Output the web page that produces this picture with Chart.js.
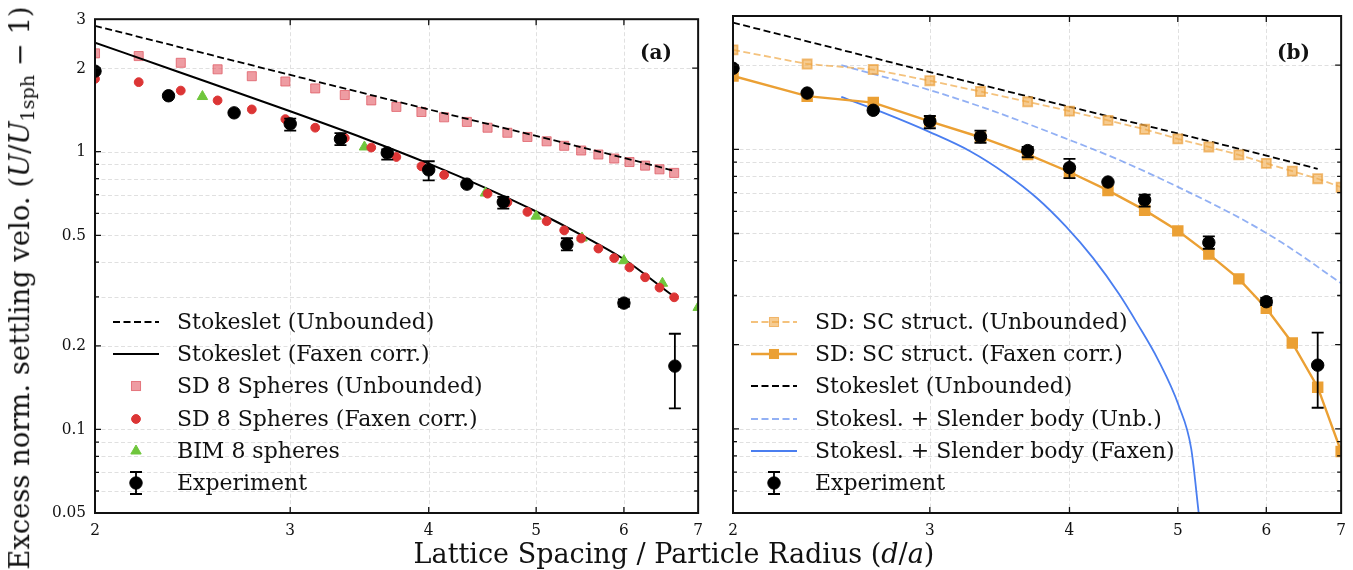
<!DOCTYPE html>
<html>
<head>
<meta charset="utf-8">
<script src="https://cdn.jsdelivr.net/npm/chart.js@4.4.0/dist/chart.umd.min.js"></script>
<style>
  body { margin: 0; background: #fff; }
  #wrap { position: relative; width: 1353px; height: 570px; overflow: hidden;
          font-family: 'DejaVu Serif', serif; color: #111; }
  canvas { position: absolute; top: 0; }
  .ytitle { position: absolute; left: 24px; top: 288px; transform: translate(-50%, -50%) rotate(-90deg);
            white-space: nowrap; font-size: 27.4px; line-height: 34px; }
  .xtitle { position: absolute; left: 674px; top: 538px; transform: translateX(-50%);
            white-space: nowrap; font-size: 27px; line-height: 32px; }
  .tag { position: absolute; font-weight: bold; font-size: 20px; line-height: 24px; }
  .row { position: absolute; height: 32px; }
  .row svg { position: absolute; left: 0; top: 0; }
  .row span { position: absolute; top: 0; white-space: nowrap; font-size: 22px; line-height: 32px; }
  sub { font-size: 0.7em; vertical-align: -0.25em; }
</style>
</head>
<body>
<div id="wrap">
  <canvas id="chartA" width="710" height="570" style="left:0"></canvas>
  <canvas id="chartB" width="643" height="570" style="left:710px"></canvas>
  <div class="ytitle">Excess norm. settling velo. (<i>U</i>/<i>U</i><sub>1sph</sub> − 1)</div>
  <div class="xtitle">Lattice Spacing / Particle Radius (<i>d</i>/<i>a</i>)</div>
  <div class="tag" style="left:640px; top:40px">(a)</div>
  <div class="tag" style="left:1277px; top:40px">(b)</div>
  <div id="legA"></div>
  <div id="legB"></div>
</div>
<script>
// ----- panel (a): 8-sphere cluster -----
var sdX      = [2.00, 2.19, 2.39, 2.58, 2.77, 2.97, 3.16, 3.36, 3.55, 3.74, 3.94, 4.13, 4.33,
                4.52, 4.71, 4.91, 5.11, 5.30, 5.49, 5.69, 5.88, 6.07, 6.27, 6.46, 6.66];
var sdUnbY   = [2.26, 2.21, 2.09, 1.98, 1.87, 1.79, 1.69, 1.60, 1.53, 1.45, 1.39, 1.33, 1.28,
                1.22, 1.17, 1.13, 1.09, 1.05, 1.01, 0.977, 0.945, 0.918, 0.891, 0.864, 0.839];
var sdFaxY   = [1.83, 1.78, 1.66, 1.53, 1.42, 1.31, 1.22, 1.12, 1.035, 0.957, 0.886, 0.825, 0.765,
                0.706, 0.657, 0.607, 0.562, 0.521, 0.487, 0.448, 0.414, 0.383, 0.353, 0.324, 0.299];
var bimX     = [2.5, 3.5, 4.5, 5.0, 5.5, 6.0, 6.5, 7.0];
var bimY     = [1.58, 1.04, 0.71, 0.586, 0.489, 0.405, 0.336, 0.275];
var stokesX    = [2, 3, 4, 5, 6, 6.67];
var stokesUnbY = [2.84, 1.89, 1.42, 1.14, 0.95, 0.852];
var stokesFaxX = [2, 2.38, 3, 3.5, 4, 4.5, 5, 5.5, 6, 6.62];
var stokesFaxY = [2.47, 1.937, 1.398, 1.116, 0.906, 0.741, 0.609, 0.500, 0.410, 0.306];

// ----- experiment (both panels) -----
var expX  = [2, 2.33, 2.67, 3, 3.33, 3.67, 4, 4.33, 4.67, 5.33, 6, 6.67];
var expY  = [1.95, 1.59, 1.38, 1.26, 1.11, 0.99, 0.86, 0.764, 0.659, 0.464, 0.285, 0.169];
var expLo = [1.95, 1.59, 1.38, 1.19, 1.056, 0.937, 0.789, 0.764, 0.624, 0.441, 0.277, 0.119];
var expHi = [1.95, 1.59, 1.38, 1.316, 1.166, 1.02, 0.924, 0.764, 0.688, 0.488, 0.294, 0.221];

// ----- panel (b): simple cubic structure -----
var scX     = [2, 2.33, 2.67, 3, 3.33, 3.67, 4, 4.33, 4.67, 5, 5.33, 5.67, 6, 6.33, 6.67, 7];
var scUnbY  = [2.27, 2.02, 1.93, 1.76, 1.61, 1.48, 1.37, 1.27, 1.18, 1.09, 1.02, 0.956, 0.891, 0.836, 0.785, 0.732];
var scFaxY  = [1.83, 1.55, 1.47, 1.26, 1.105, 0.959, 0.83, 0.713, 0.606, 0.511, 0.422, 0.344, 0.270, 0.203, 0.141, 0.083];
var slenderUnbX = [2.5, 3.0, 3.41, 3.98, 4.41, 5.0, 5.7, 6.2, 7.0];
var slenderUnbY = [2.00, 1.63, 1.376, 1.089, 0.924, 0.734, 0.564, 0.463, 0.332];
var slenderFaxX = [2.5, 2.75, 3.0, 3.26, 3.51, 3.74, 3.97, 4.20, 4.43, 4.60, 4.80, 5.01, 5.14, 5.22];
var slenderFaxY = [1.54, 1.334, 1.153, 0.985, 0.817, 0.670, 0.530, 0.408, 0.3035, 0.238, 0.177, 0.121, 0.085, 0.050];

// ----- axes -----
var xTicks = [2, 3, 4, 5, 6, 7];
var xGrid  = [3, 4, 5, 6];
var yTicks = [0.05, 0.1, 0.2, 0.5, 1, 2, 3];
var yGrid  = [0.06, 0.07, 0.08, 0.09, 0.1, 0.2, 0.3, 0.4, 0.5, 0.6, 0.7, 0.8, 0.9, 1, 2];

var TICKFONT = "'DejaVu Serif Condensed', 'DejaVu Serif', serif";

function pts(xs, ys) {
  return xs.map(function (x, i) { return { x: x, y: ys[i] }; });
}

// dashed grid + inward ticks + box, like the matplotlib style of the original
var axesFrame = {
  id: 'axesFrame',
  beforeDatasetsDraw: function (chart) {
    var ctx = chart.ctx, a = chart.chartArea, sx = chart.scales.x, sy = chart.scales.y;
    ctx.save();
    ctx.strokeStyle = '#e0e0e0';
    ctx.lineWidth = 1;
    ctx.setLineDash([4, 2.5]);
    ctx.beginPath();
    xGrid.forEach(function (v) {
      var p = Math.round(sx.getPixelForValue(v)) + 0.5;
      ctx.moveTo(p, a.top); ctx.lineTo(p, a.bottom);
    });
    yGrid.forEach(function (v) {
      var p = Math.round(sy.getPixelForValue(v)) + 0.5;
      ctx.moveTo(a.left, p); ctx.lineTo(a.right, p);
    });
    ctx.stroke();
    ctx.restore();
  },
  afterDraw: function (chart) {
    var ctx = chart.ctx, a = chart.chartArea, sx = chart.scales.x, sy = chart.scales.y;
    ctx.save();
    ctx.strokeStyle = '#111';
    ctx.lineWidth = 1.3;
    ctx.beginPath();
    xGrid.forEach(function (v) {
      var p = sx.getPixelForValue(v);
      ctx.moveTo(p, a.bottom); ctx.lineTo(p, a.bottom - 6);
      ctx.moveTo(p, a.top); ctx.lineTo(p, a.top + 6);
    });
    yGrid.forEach(function (v) {
      var p = sy.getPixelForValue(v);
      var len = yTicks.indexOf(v) >= 0 ? 6 : 4;
      ctx.moveTo(a.left, p); ctx.lineTo(a.left + len, p);
      ctx.moveTo(a.right, p); ctx.lineTo(a.right - len, p);
    });
    ctx.stroke();
    ctx.lineWidth = 2;
    ctx.strokeRect(a.left, a.top, a.right - a.left, a.bottom - a.top);
    ctx.restore();
  }
};

var errorBars = {
  id: 'errorBars',
  beforeDatasetDraw: function (chart, args) {
    var ds = chart.data.datasets[args.index];
    if (!ds.errLo) return;
    var ctx = chart.ctx, sx = chart.scales.x, sy = chart.scales.y;
    ctx.save();
    ctx.strokeStyle = '#000';
    ctx.lineWidth = 1.8;
    ds.data.forEach(function (p, i) {
      var px = sx.getPixelForValue(p.x);
      var lo = sy.getPixelForValue(ds.errLo[i]), hi = sy.getPixelForValue(ds.errHi[i]);
      if (Math.abs(lo - hi) < 1) return;
      ctx.beginPath();
      ctx.moveTo(px, lo); ctx.lineTo(px, hi);
      ctx.moveTo(px - 6, lo); ctx.lineTo(px + 6, lo);
      ctx.moveTo(px - 6, hi); ctx.lineTo(px + 6, hi);
      ctx.stroke();
    });
    ctx.restore();
  }
};

function lineSet(label, xs, ys, color, width, dash, smooth) {
  return {
    label: label, data: pts(xs, ys), showLine: true, borderColor: color, borderWidth: width,
    borderDash: dash || [], pointRadius: 0, cubicInterpolationMode: smooth ? 'monotone' : 'default',
    clip: 0
  };
}
function markerSet(label, xs, ys, style, radius, fill, stroke) {
  return {
    label: label, data: pts(xs, ys), showLine: false, pointStyle: style, pointRadius: radius,
    pointBackgroundColor: fill, pointBorderColor: stroke, pointBorderWidth: 1, clip: 0
  };
}
function experimentSet() {
  var d = markerSet('Experiment', expX, expY, 'circle', 6.2, '#000', '#000');
  d.errLo = expLo; d.errHi = expHi;
  return d;
}

var stokesUnb = function () { return lineSet('Stokeslet (Unbounded)', stokesX, stokesUnbY, '#000', 1.8, [7, 3.5]); };

var setsA = [
  experimentSet(),
  markerSet('SD 8 Spheres (Faxen corr.)', sdX, sdFaxY, 'circle', 4.4, '#dc3535', '#dc3535'),
  markerSet('BIM 8 spheres', bimX, bimY, 'triangle', 6, '#6fc63c', '#6fc63c'),
  lineSet('Stokeslet (Faxen corr.)', stokesFaxX, stokesFaxY, '#000', 2, null, true),
  stokesUnb(),
  markerSet('SD 8 Spheres (Unbounded)', sdX, sdUnbY, 'rect', 6.4, 'rgba(228,95,105,0.62)', 'rgba(222,88,98,0.75)')
];

var scFax = lineSet('SD: SC struct. (Faxen corr.)', scX, scFaxY, '#eba034', 2.4);
scFax.pointStyle = 'rect'; scFax.pointRadius = 6.4;
scFax.pointBackgroundColor = '#eba034'; scFax.pointBorderColor = '#eba034';
var scUnb = lineSet('SD: SC struct. (Unbounded)', scX, scUnbY, 'rgba(240,168,70,0.7)', 1.8, [7, 3.5]);
scUnb.pointStyle = 'rect'; scUnb.pointRadius = 6.4;
scUnb.pointBackgroundColor = 'rgba(240,168,70,0.6)'; scUnb.pointBorderColor = 'rgba(235,160,60,0.7)';

var setsB = [
  experimentSet(),
  scFax,
  scUnb,
  stokesUnb(),
  lineSet('Stokesl. + Slender body (Faxen)', slenderFaxX, slenderFaxY, '#4a7ef0', 1.8, null, true),
  lineSet('Stokesl. + Slender body (Unb.)', slenderUnbX, slenderUnbY, 'rgba(110,150,240,0.75)', 1.8, [7, 3.5], true)
];

Chart.defaults.font.family = TICKFONT;
Chart.defaults.color = '#111';

function makePanel(id, datasets, yWidth, padRight, yLabels) {
  return new Chart(document.getElementById(id), {
    type: 'scatter',
    data: { datasets: datasets },
    options: {
      responsive: false,
      animation: false,
      layout: { padding: { top: 16, right: padRight, left: 0, bottom: 0 } },
      plugins: { legend: { display: false }, tooltip: { enabled: false } },
      scales: {
        x: {
          type: 'logarithmic', min: 2, max: 7,
          grid: { display: false, drawTicks: false }, border: { display: false },
          afterBuildTicks: function (s) { s.ticks = xTicks.map(function (v) { return { value: v }; }); },
          afterFit: function (s) { s.height = 57; },
          ticks: { autoSkip: false, maxRotation: 0, padding: 7, font: { size: 17 },
                   callback: function (v) { return String(v); } }
        },
        y: {
          type: 'logarithmic', min: 0.05, max: 3,
          grid: { display: false, drawTicks: false }, border: { display: false },
          afterBuildTicks: function (s) { s.ticks = yTicks.map(function (v) { return { value: v }; }); },
          afterFit: function (s) { s.width = yWidth; },
          ticks: { display: yLabels, autoSkip: false, padding: 9, font: { size: 17 },
                   callback: function (v) { return String(v); } }
        }
      }
    },
    plugins: [axesFrame, errorBars]
  });
}

var chartA = makePanel('chartA', setsA, 95, 5, true);
var chartB = makePanel('chartB', setsB, 23, 11, false);

// ----- legends (drawn from the dataset styles) -----
function glyph(ds) {
  var s = '<svg width="50" height="32" viewBox="0 0 50 32">';
  if (ds.showLine) {
    s += '<line x1="1" y1="16" x2="47" y2="16" stroke="' + ds.borderColor + '" stroke-width="' + ds.borderWidth + '"' +
         (ds.borderDash.length ? ' stroke-dasharray="' + ds.borderDash.join(' ') + '"' : '') + '/>';
  }
  if (ds.errLo) {
    s += '<path d="M24 5V27M18 5H30M18 27H30" stroke="#000" stroke-width="1.8" fill="none"/>';
  }
  var r = ds.pointRadius, f = ds.pointBackgroundColor, c = ds.pointBorderColor;
  if (r > 0) {
    if (ds.pointStyle === 'rect') {
      var h = r * Math.SQRT1_2;
      s += '<rect x="' + (24 - h) + '" y="' + (16 - h) + '" width="' + 2 * h + '" height="' + 2 * h + '" fill="' + f + '" stroke="' + c + '"/>';
    } else if (ds.pointStyle === 'triangle') {
      var p = [[24, 16 - r], [24 + r * 0.866, 16 + r / 2], [24 - r * 0.866, 16 + r / 2]];
      s += '<polygon points="' + p.map(function (q) { return q.join(','); }).join(' ') + '" fill="' + f + '" stroke="' + c + '"/>';
    } else {
      s += '<circle cx="24" cy="16" r="' + r + '" fill="' + f + '" stroke="' + c + '"/>';
    }
  }
  return s + '</svg>';
}

function buildLegend(el, datasets, order, left) {
  var html = '';
  order.forEach(function (label, i) {
    var ds = datasets.filter(function (d) { return d.label === label; })[0];
    var top = 306 + i * 32.2;
    html += '<div class="row" style="left:' + left + 'px; top:' + top + 'px; width:520px">' + glyph(ds) +
            '<span style="left:65px">' + label + '</span></div>';
  });
  el.innerHTML = html;
}

buildLegend(document.getElementById('legA'), setsA, [
  'Stokeslet (Unbounded)', 'Stokeslet (Faxen corr.)', 'SD 8 Spheres (Unbounded)',
  'SD 8 Spheres (Faxen corr.)', 'BIM 8 spheres', 'Experiment'
], 112);
buildLegend(document.getElementById('legB'), setsB, [
  'SD: SC struct. (Unbounded)', 'SD: SC struct. (Faxen corr.)', 'Stokeslet (Unbounded)',
  'Stokesl. + Slender body (Unb.)', 'Stokesl. + Slender body (Faxen)', 'Experiment'
], 750);
</script>
</body>
</html>
